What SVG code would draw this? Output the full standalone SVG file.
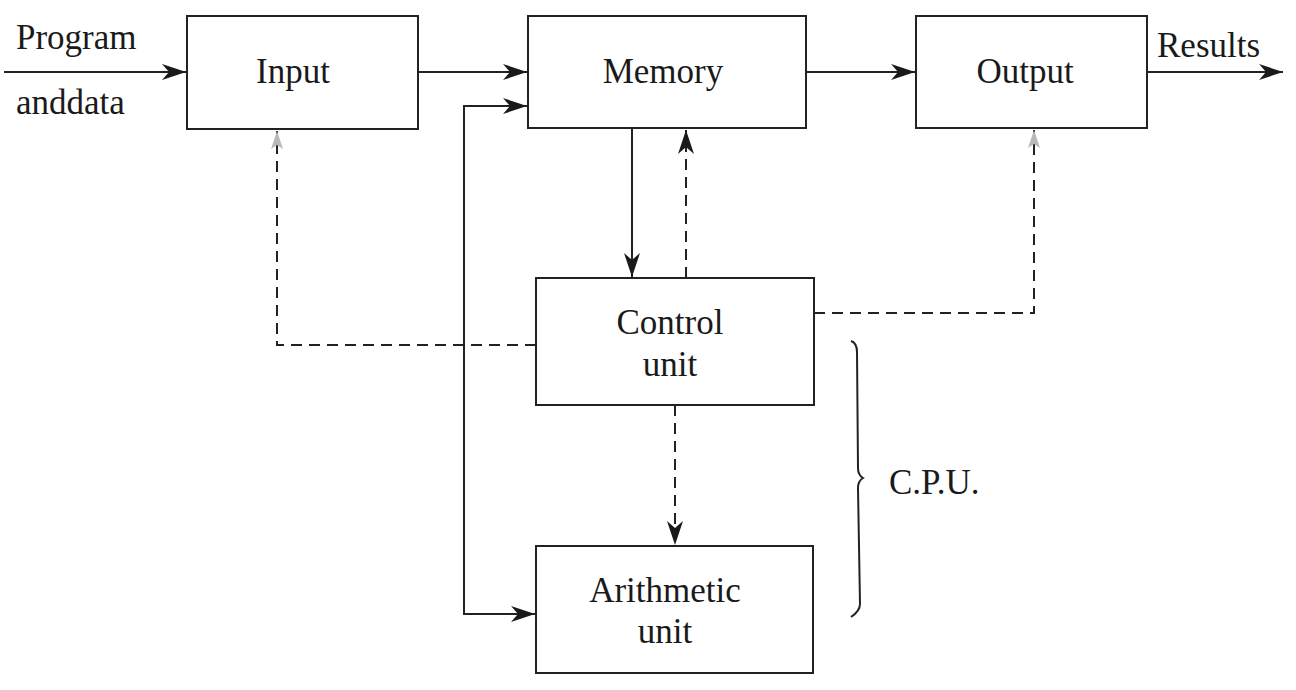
<svg xmlns="http://www.w3.org/2000/svg" width="1296" height="690" viewBox="0 0 1296 690" font-family="Liberation Serif, DejaVu Serif, Times New Roman, serif">
<style>
.t{font-size:35px;fill:#1a1a1a}
.box{fill:#fff;stroke:#222;stroke-width:2}
.c{text-anchor:middle}
.ln{fill:none;stroke:#222;stroke-width:2}
.ds{fill:none;stroke:#222;stroke-width:2;stroke-dasharray:11 7}
</style>
<defs>
<marker id="ah" markerUnits="userSpaceOnUse" markerWidth="26" markerHeight="16" refX="24" refY="8" orient="auto">
<path d="M0,0 L24,8 L0,16 L7,8 Z" fill="#1a1a1a"/>
</marker>
<marker id="ahg" markerUnits="userSpaceOnUse" markerWidth="24" markerHeight="14" refX="18" refY="6" orient="auto">
<path d="M0,0 L18,6 L0,12 L4,6 Z" fill="#b8b8b8"/>
</marker>
</defs>
<g id="connectors">
<line class="ln" x1="4" y1="72" x2="186" y2="72" marker-end="url(#ah)"/>
<line class="ln" x1="418" y1="72" x2="527" y2="72" marker-end="url(#ah)"/>
<line class="ln" x1="806" y1="72" x2="915" y2="72" marker-end="url(#ah)"/>
<line class="ln" x1="1147" y1="72" x2="1283" y2="72" marker-end="url(#ah)"/>
<polyline class="ln" points="527,106 464,106 464,614 535,614" marker-end="url(#ah)"/>
<path class="ln" d="M464,106 L527,106" marker-end="url(#ah)"/>
<line class="ln" x1="632" y1="128" x2="632" y2="277" marker-end="url(#ah)"/>
<line class="ds" x1="686" y1="278" x2="686" y2="130" marker-end="url(#ah)"/>
<polyline class="ds" points="536,345 277,345 277,131" marker-end="url(#ahg)"/>
<polyline class="ds" points="814,313 1034,313 1034,130" marker-end="url(#ahg)"/>
<line class="ds" x1="675" y1="405" x2="675" y2="545" marker-end="url(#ah)"/>
</g>
<g id="input"><rect class="box" x="187" y="16" width="231" height="113"/><text class="t c" x="293" y="83">Input</text></g>
<g id="memory"><rect class="box" x="528" y="16" width="278" height="112"/><text class="t c" x="663" y="83">Memory</text></g>
<g id="output"><rect class="box" x="916" y="16" width="231" height="112"/><text class="t c" x="1025" y="83">Output</text></g>
<g id="control"><rect class="box" x="536" y="278" width="278" height="127"/><text class="t c" x="670" y="334">Control</text><text class="t c" x="670" y="376">unit</text></g>
<g id="arithmetic"><rect class="box" x="536" y="546" width="277" height="127"/><text class="t c" x="665" y="602">Arithmetic</text><text class="t c" x="665" y="643">unit</text></g>
<g id="labels">
<text class="t" x="16" y="49">Program</text>
<text class="t" x="16" y="114">anddata</text>
<text class="t" x="1157" y="57">Results</text>
<text class="t" x="889" y="494">C.P.U.</text>
</g>
<g id="brace">
<path class="ln" d="M851,341 Q857,343 857,352 L858,468 Q858,475 863,478 Q858,481 858,488 L860,604 Q860,611 851,617" stroke-width="1.8"/>
</g>
</svg>
